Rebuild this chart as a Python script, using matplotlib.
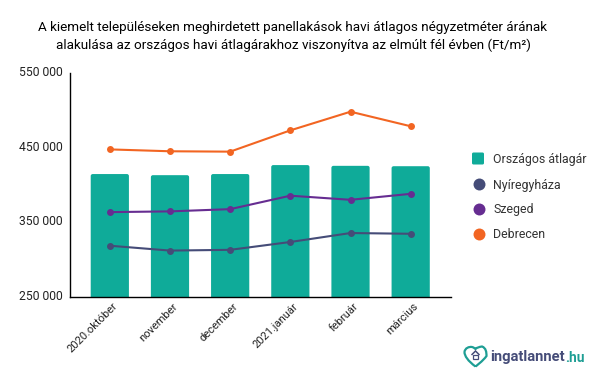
import matplotlib
matplotlib.use("Agg")
import matplotlib.pyplot as plt
from matplotlib.patches import FancyBboxPatch, PathPatch, Rectangle
from matplotlib.path import Path
from matplotlib.lines import Line2D
from matplotlib.transforms import ScaledTranslation

months = ["2020.október", "november", "december", "2021.január", "február", "március"]
orszagos = [414000, 412500, 414000, 426000, 425000, 424500]
nyiregyhaza = [318000, 311500, 312500, 323000, 335000, 334000]
szeged = [363000, 364000, 367000, 385000, 379500, 387500]
debrecen = [447000, 444500, 444000, 472500, 497500, 478000]
y_ticks = [250000, 350000, 450000, 550000]

TEAL = "#0FAB99"
NAVY = "#454C78"
PURPLE = "#662D91"
ORANGE = "#F26522"
TEXT = "#222222"

plt.rcParams["font.family"] = ["Roboto", "DejaVu Sans"]

fig = plt.figure(figsize=(6, 3.71), dpi=100)
W, H = 600, 371
ax = fig.add_axes([69.5 / W, 1 - 296.5 / H, (451 - 69.5) / W, 224 / H])

x = list(range(len(months)))
ax.set_xlim(-0.67, 5.67)
ax.set_ylim(250000, 550000)

# bars with slightly rounded tops (bottom goes under the axis and gets clipped)
bar_w = 0.635
px_x = 6.34 / 381.5
px_y = 300000 / 224
for xi, v in zip(x, orszagos):
    box = FancyBboxPatch((xi - bar_w / 2 + 2 * px_x, 240000), bar_w - 4 * px_x, v - 240000 - 2 * px_y,
                         boxstyle="round,pad=%f,rounding_size=%f" % (2 * px_x, 2 * px_x),
                         mutation_aspect=px_y / px_x,
                         fc=TEAL, ec="none", lw=0, zorder=2)
    ax.add_patch(box)

for vals, col in [(nyiregyhaza, NAVY), (szeged, PURPLE), (debrecen, ORANGE)]:
    ax.plot(x, vals, color=col, lw=1.5, marker="o", ms=5, mew=0, zorder=3)

for s in ["top", "right"]:
    ax.spines[s].set_visible(False)
for s in ["left", "bottom"]:
    ax.spines[s].set_linewidth(1.0)
    ax.spines[s].set_color("black")
    ax.spines[s].set_zorder(4)

ax.set_yticks(y_ticks)
ax.set_yticklabels([f"{v:,}".replace(",", " ") for v in y_ticks], fontsize=8.7, color=TEXT)
ax.set_xticks(x)
ax.set_xticklabels(months, fontsize=8.0, color=TEXT, rotation=45, ha="right",
                   rotation_mode="anchor")
ax.tick_params(axis="y", length=0, pad=5)
ax.tick_params(axis="x", length=0, pad=4)
up = ScaledTranslation(0, 1.5 / 100, fig.dpi_scale_trans)
for lab in ax.get_yticklabels():
    lab.set_transform(lab.get_transform() + up)
shift = ScaledTranslation(2.5 / 100, 1 / 100, fig.dpi_scale_trans)
for lab in ax.get_xticklabels():
    lab.set_transform(lab.get_transform() + shift)

# overlay in pixel coordinates for title, legend and logo
ov = fig.add_axes([0, 0, 1, 1], zorder=5)
ov.set_xlim(0, W)
ov.set_ylim(H, 0)
ov.axis("off")

ov.text(293, 28, "A kiemelt településeken meghirdetett panellakások havi átlagos négyzetméter árának",
        ha="center", va="center", fontsize=9.7, color="black")
ov.text(293, 45, "alakulása az országos havi átlagárakhoz viszonyítva az elmúlt fél évben (Ft/m²)",
        ha="center", va="center", fontsize=9.7, color="black")

legend_labels = ["Országos átlagár", "Nyíregyháza", "Szeged", "Debrecen"]
legend_y = [158.5, 183.5, 208.5, 233.5]
ov.add_patch(FancyBboxPatch((473, 153.5), 10, 10, boxstyle="round,pad=1,rounding_size=1.5",
                            fc=TEAL, ec="none"))
for ly, col in zip(legend_y[1:], [NAVY, PURPLE, ORANGE]):
    ov.add_line(Line2D([478.5], [ly], marker="o", ms=8.6, mew=0, color=col))
for ly, lab in zip(legend_y, legend_labels):
    ov.text(493, ly, lab, ha="left", va="center_baseline", fontsize=8.9, color="#333333")

# logo: heart outline, small house, wordmark
heart = Path([(475.5, 366.5), (468, 361), (464.5, 356), (464.5, 352), (465, 348), (469, 346.5),
              (472, 347), (474, 347.5), (475.5, 349), (475.5, 349),
              (475.5, 349), (477, 347.5), (479, 347), (482, 346.5), (486, 348), (486.5, 352),
              (486.5, 356), (483, 361), (475.5, 366.5), (475.5, 366.5)],
             [Path.MOVETO, Path.CURVE4, Path.CURVE4, Path.CURVE4, Path.CURVE4, Path.CURVE4,
              Path.CURVE4, Path.CURVE4, Path.CURVE4, Path.CURVE4,
              Path.LINETO, Path.CURVE4, Path.CURVE4, Path.CURVE4, Path.CURVE4, Path.CURVE4,
              Path.CURVE4, Path.CURVE4, Path.CURVE4, Path.CLOSEPOLY])
ov.add_patch(PathPatch(heart, fc="none", ec="#1E9E94", lw=1.6))
ov.add_patch(PathPatch(Path([(471.5, 355), (475.5, 351), (479.5, 355)]), fc="none", ec=NAVY, lw=1.1))
ov.add_patch(Rectangle((473, 355), 5, 3.5, fc="none", ec=NAVY, lw=0.9))
ov.text(490, 357.5, "ingatlannet", ha="left", va="center", fontsize=10.6, fontweight="bold", color=NAVY)
ov.text(565.5, 357.5, ".hu", ha="left", va="center", fontsize=9.8, fontweight="bold", color="#1E9E94")

fig.savefig("out.png", dpi=100, facecolor="white")
